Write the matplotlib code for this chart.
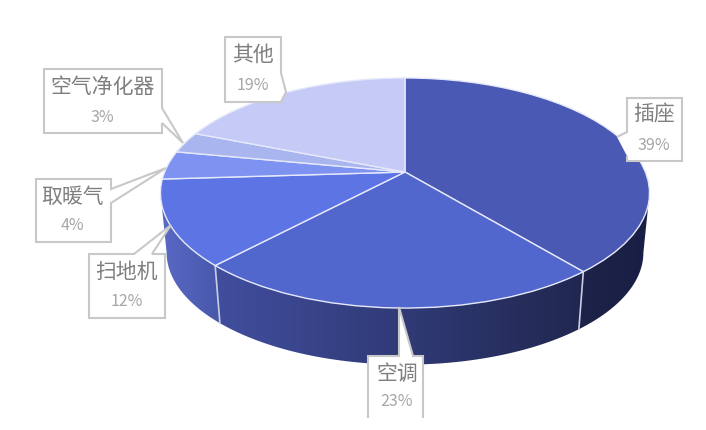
import matplotlib
matplotlib.use("Agg")
import matplotlib.pyplot as plt
import matplotlib.transforms as mtransforms
from matplotlib.colors import LinearSegmentedColormap
from matplotlib.patches import Polygon
import numpy as np

plt.rcParams['font.family'] = ['Noto Sans CJK SC', 'DejaVu Sans']

categories = ['插座', '空调', '扫地机', '取暖气', '空气净化器', '其他']
values = [39, 23, 12, 4, 3, 19]
top_colors = ['#4a5ab4', '#5167cd', '#5c74e4', '#7e92f2', '#a9b5ef', '#c5caf6']
# left and right colour of the visible side wall of each slice
wall_colors = [('#1d2349', '#191f44'), ('#414e9e', '#20274f'), ('#5a6ac6', '#4757aa'),
               None, None, None]

# label box outlines, pointer included
boxes = [
    [(617, 137), (627, 132), (627, 98), (682, 98), (682, 161), (627, 161), (627, 156)],
    [(368, 418), (368, 356), (399, 356), (399, 307), (413, 356), (423, 356), (423, 418)],
    [(89, 254), (134, 254), (171, 225), (152, 254), (165, 254), (165, 318), (89, 318)],
    [(36, 179), (111, 179), (111, 189), (166, 168), (111, 203), (111, 242), (36, 242)],
    [(44, 69), (162, 69), (162, 108), (183, 143), (162, 123), (162, 133), (44, 133)],
    [(225, 37), (281, 37), (281, 73), (286, 92), (281, 102), (225, 102)],
]
open_boxes = ['插座', '空调']
name_pos = [(654, 115), (397, 374), (127, 272), (73, 197), (103, 87), (253, 55)]
pct_pos = [(654, 146), (397, 402), (127, 301), (72, 225), (102, 117), (253, 86)]

# centre of the pie on the picture and its perspective
cx, cy = 405, 172
persp = 0.1826
rx, ry = 240.4, 111.2


class Tilted(mtransforms.Transform):
    input_dims = 2
    output_dims = 2

    def __init__(self, scale=1.0, drop=0.0):
        super().__init__()
        self.scale = scale
        self.drop = drop

    def transform_non_affine(self, xy):
        xy = np.asarray(xy, dtype=float)
        w = 1 + persp * xy[:, 1]
        px = cx + self.scale * rx * xy[:, 0] / w
        py = cy + self.drop - self.scale * ry * xy[:, 1] / w
        return np.column_stack([px, py])


top = Tilted()
bottom = Tilted(0.975, 60)

fig = plt.figure(figsize=(7.06, 4.3), dpi=100)
ax = fig.add_axes([0, 0, 1, 1])

wedges, _ = ax.pie(values, colors=top_colors, startangle=90, counterclock=False,
                   wedgeprops={'edgecolor': '#e6e9fa', 'linewidth': 1.0})
ax.set_aspect('auto')
ax.axis('off')

for w in wedges:
    w.set_transform(top + ax.transData)
    w.set_zorder(3)
    w.set_clip_on(False)

# side wall, only the front part between the two outline tangents is seen
limit = np.degrees(np.arcsin(persp))
ends = 90 - 3.6 * np.cumsum(values)
starts = np.concatenate([[90], ends[:-1]])
for a0, a1, cols in zip(starts, ends, wall_colors):
    if cols is None:
        continue
    t = np.radians(np.linspace(min(a0, -limit), max(a1, -180 + limit), 80))
    arc = np.column_stack([np.cos(t), np.sin(t)])
    outline = np.vstack([top.transform(arc), bottom.transform(arc)[::-1]])
    shape = Polygon(outline, closed=True, facecolor='none', edgecolor='none')
    ax.add_patch(shape)
    cmap = LinearSegmentedColormap.from_list('wall', cols)
    x0, x1 = outline[:, 0].min(), outline[:, 0].max()
    y0, y1 = outline[:, 1].min(), outline[:, 1].max()
    im = ax.imshow(np.linspace(0, 1, 256).reshape(1, -1), cmap=cmap, aspect='auto',
                   extent=[x0, x1, y1, y0], zorder=2)
    im.set_clip_path(shape)
    # light line between two slices on the wall
    if a1 > -180 + limit:
        edge = np.array([[np.cos(np.radians(a1)), np.sin(np.radians(a1))]])
        p, q = top.transform(edge)[0], bottom.transform(edge)[0]
        ax.plot([p[0], q[0]], [p[1], q[1]], color='#c9cde6', lw=1.2, zorder=2.5)

ax.set_xlim(0, 706)
ax.set_ylim(430, 0)

for i, (name, value) in enumerate(zip(categories, values)):
    pts = boxes[i]
    ax.add_patch(Polygon(pts, closed=True, facecolor='white', edgecolor='none', zorder=4))
    ax.add_patch(Polygon(pts, closed=name not in open_boxes, fill=False,
                         edgecolor='#c8c8c8', linewidth=1.5, zorder=5))
    ax.text(*name_pos[i], name, ha='center', va='center', fontsize=15,
            color='#7f7f7f', zorder=6)
    ax.text(*pct_pos[i], f'{value}%', ha='center', va='center', fontsize=11.5,
            color='#a6a6a6', zorder=6)

fig.savefig('out.png', dpi=100)
